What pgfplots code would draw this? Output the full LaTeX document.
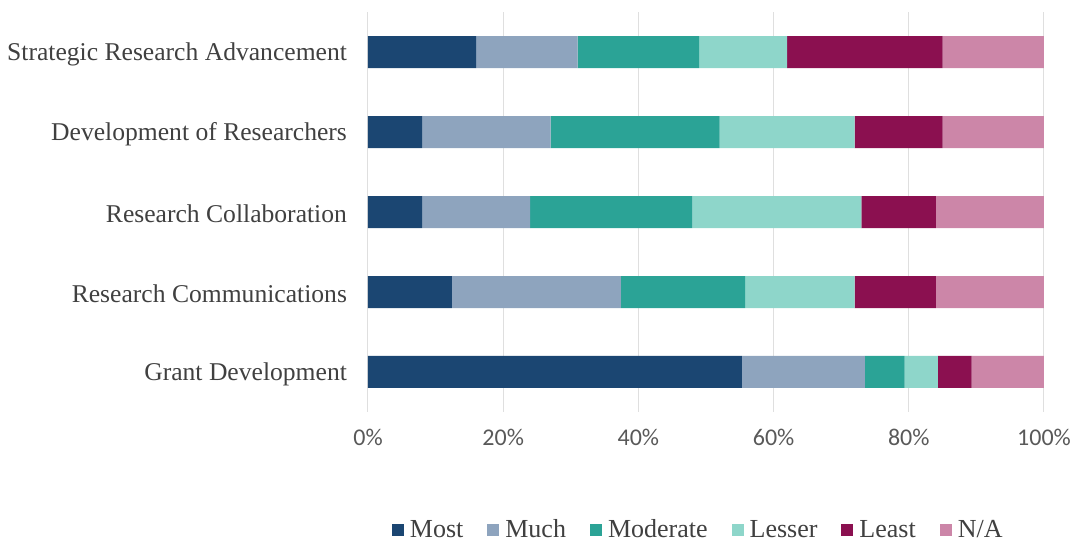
\documentclass[border=0pt]{standalone}
\usepackage{pgfplots}
\pgfplotsset{compat=1.18}
\usepackage{fontspec}
\setmainfont{Liberation Serif}
\newfontfamily\tickfont{Carlito}
\definecolor{cMost}{HTML}{1B4672}
\definecolor{cMuch}{HTML}{8EA4BE}
\definecolor{cMod}{HTML}{2BA396}
\definecolor{cLess}{HTML}{8ED6CA}
\definecolor{cLeast}{HTML}{8B1050}
\definecolor{cNA}{HTML}{CC86A8}
\definecolor{txt}{HTML}{404040}
\definecolor{tick}{HTML}{595959}
\begin{document}
\begin{tikzpicture}
\path[use as bounding box] (-184pt,-67pt) rectangle (352pt,206pt);
\begin{axis}[
  at={(0,0)}, anchor=south west,
  scale only axis, width=338pt, height=200pt,
  xbar stacked, bar width=16pt,
  xmin=0, xmax=100, ymin=-0.5, ymax=4.5,
  axis line style={draw=none},
  major tick length=0pt,
  xtick={0,20,40,60,80,100},
  xticklabels={0\%,20\%,40\%,60\%,80\%,100\%},
  xticklabel style={font=\tickfont\fontsize{12}{14}\selectfont, text=tick, yshift=-5pt},
  ytick={0,1,2,3,4},
  yticklabels={Grant Development,Research Communications,Research Collaboration,Development of Researchers,Strategic Research Advancement},
  yticklabel style={font=\fontsize{12.8}{15}\selectfont, text=txt, xshift=-7pt, yshift=-1pt},
  xmajorgrids, grid style={draw=gray!25, line width=0.5pt},
  legend style={at={(0.49,-0.295)}, anchor=center, draw=none, legend columns=6,
    font=\fontsize{13}{15}\selectfont, text=txt, inner sep=0pt,
    /tikz/every odd column/.append style={column sep=1pt},
    /tikz/every even column/.append style={column sep=10pt}},
  legend image code/.code={\fill[#1] (0pt,-3pt) rectangle (6pt,3pt);},
]
\addplot[fill=cMost, draw=none] coordinates {(55.3,0) (12.4,1) (8,2) (8,3) (16,4)};
\addplot[fill=cMuch, draw=none] coordinates {(18.2,0) (25,1) (16,2) (19,3) (15,4)};
\addplot[fill=cMod, draw=none] coordinates {(5.9,0) (18.4,1) (24,2) (25,3) (18,4)};
\addplot[fill=cLess, draw=none] coordinates {(4.9,0) (16.2,1) (25,2) (20,3) (13,4)};
\addplot[fill=cLeast, draw=none] coordinates {(5,0) (12,1) (11,2) (13,3) (23,4)};
\addplot[fill=cNA, draw=none] coordinates {(10.7,0) (16,1) (16,2) (15,3) (15,4)};
\legend{Most,Much,Moderate,Lesser,Least,N/A}
\end{axis}
\end{tikzpicture}
\end{document}
